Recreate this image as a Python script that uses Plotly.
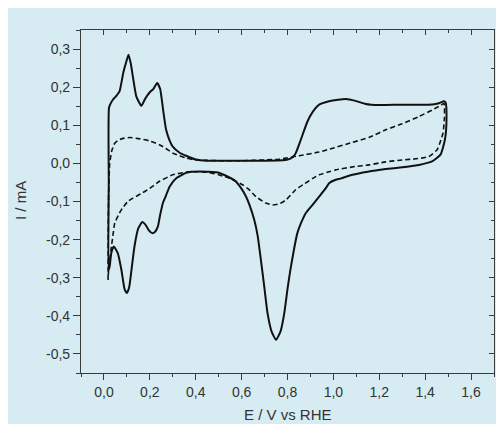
import plotly.graph_objects as go

# ---- data ----
E_solid_anodic = [0.020, 0.021, 0.022, 0.030, 0.039, 0.055, 0.068, 0.085, 0.098, 0.107,
                  0.117, 0.126, 0.141, 0.163, 0.180, 0.199, 0.215, 0.232, 0.245, 0.258,
                  0.271, 0.285, 0.300, 0.330, 0.358, 0.400, 0.450, 0.500, 0.600, 0.700,
                  0.780, 0.810, 0.825, 0.836, 0.858, 0.887, 0.910, 0.938, 0.981, 1.020,
                  1.054, 1.097, 1.141, 1.200, 1.300, 1.416, 1.460, 1.481, 1.489]
I_solid_anodic = [-0.280, -0.050, 0.146, 0.158, 0.167, 0.178, 0.189, 0.240, 0.268, 0.285,
                  0.262, 0.228, 0.176, 0.151, 0.170, 0.186, 0.195, 0.211, 0.195, 0.140,
                  0.088, 0.062, 0.044, 0.028, 0.020, 0.010, 0.007, 0.007, 0.007, 0.007,
                  0.008, 0.012, 0.018, 0.027, 0.062, 0.110, 0.135, 0.154, 0.163, 0.167,
                  0.169, 0.164, 0.156, 0.153, 0.154, 0.154, 0.158, 0.163, 0.160]

E_solid_cathodic = [1.493, 1.486, 1.467, 1.430, 1.373, 1.300, 1.228, 1.150, 1.083, 1.030,
                    1.010, 0.981, 0.967, 0.938, 0.910, 0.880, 0.860, 0.843, 0.815, 0.800,
                    0.786, 0.770, 0.750, 0.730, 0.713, 0.700, 0.684, 0.670, 0.655, 0.635,
                    0.619, 0.600, 0.570, 0.547, 0.503, 0.450, 0.416, 0.380, 0.358, 0.315,
                    0.286, 0.270, 0.257, 0.245, 0.235, 0.222, 0.210, 0.195, 0.180, 0.167,
                    0.150, 0.133, 0.120, 0.110, 0.100, 0.090, 0.076, 0.060, 0.043, 0.032,
                    0.025, 0.020]
I_solid_cathodic = [0.114, 0.062, 0.023, 0.005, -0.004, -0.010, -0.015, -0.022, -0.030, -0.040,
                    -0.043, -0.052, -0.065, -0.087, -0.108, -0.130, -0.155, -0.183, -0.271, -0.330,
                    -0.393, -0.440, -0.463, -0.440, -0.393, -0.330, -0.253, -0.190, -0.148, -0.110,
                    -0.087, -0.067, -0.045, -0.037, -0.025, -0.022, -0.021, -0.022, -0.025, -0.039,
                    -0.061, -0.085, -0.104, -0.135, -0.166, -0.180, -0.183, -0.175, -0.160, -0.154,
                    -0.170, -0.218, -0.280, -0.325, -0.340, -0.330, -0.279, -0.235, -0.218, -0.235,
                    -0.270, -0.280]

E_dash_anodic = [0.018, 0.020, 0.025, 0.035, 0.047, 0.060, 0.080, 0.112, 0.150, 0.199,
                 0.242, 0.270, 0.300, 0.330, 0.358, 0.400, 0.450, 0.500, 0.600, 0.700,
                 0.764, 0.850, 0.938, 0.981, 1.083, 1.155, 1.228, 1.300, 1.373, 1.430,
                 1.467, 1.482]
I_dash_anodic = [-0.306, -0.100, 0.000, 0.035, 0.053, 0.060, 0.065, 0.068, 0.065, 0.059,
                 0.049, 0.039, 0.027, 0.020, 0.014, 0.009, 0.008, 0.007, 0.007, 0.009,
                 0.011, 0.020, 0.030, 0.037, 0.055, 0.068, 0.088, 0.104, 0.123, 0.140,
                 0.152, 0.157]

E_dash_cathodic = [1.484, 1.478, 1.465, 1.452, 1.416, 1.360, 1.300, 1.228, 1.155, 1.097,
                   1.010, 0.981, 0.938, 0.909, 0.870, 0.836, 0.793, 0.765, 0.735, 0.705,
                   0.662, 0.633, 0.604, 0.547, 0.500, 0.450, 0.400, 0.358, 0.300, 0.242,
                   0.199, 0.160, 0.126, 0.104, 0.080, 0.068, 0.047, 0.039, 0.030, 0.022,
                   0.018]
I_dash_cathodic = [0.120, 0.080, 0.055, 0.036, 0.018, 0.012, 0.009, 0.004, -0.004, -0.008,
                   -0.017, -0.022, -0.030, -0.040, -0.055, -0.069, -0.096, -0.106, -0.109, -0.104,
                   -0.087, -0.069, -0.056, -0.039, -0.030, -0.023, -0.022, -0.023, -0.030, -0.047,
                   -0.066, -0.080, -0.091, -0.100, -0.118, -0.130, -0.157, -0.190, -0.230, -0.270,
                   -0.300]

x_tickvals = [0.0, 0.2, 0.4, 0.6, 0.8, 1.0, 1.2, 1.4, 1.6]
x_ticktext = ["0,0", "0,2", "0,4", "0,6", "0,8", "1,0", "1,2", "1,4", "1,6"]
y_tickvals = [-0.5, -0.4, -0.3, -0.2, -0.1, 0.0, 0.1, 0.2, 0.3]
y_ticktext = ["-0,5", "-0,4", "-0,3", "-0,2", "-0,1", "0,0", "0,1", "0,2", "0,3"]
x_title = "E / V vs RHE"
y_title = "I / mA"

# ---- layout geometry (figure coords; page adds an 8px body margin) ----
W, H = 496, 416
L, R, T, B = 73, 10, 22, 51
PW, PH = W - L - R, H - T - B
BG = "rgb(214,236,242)"
AX = "#3a3a3a"
TXT = "#333333"
FONT = "Liberation Sans, Arial, sans-serif"

def px_x(p):
    return (p - L) / PW

def px_y(p):
    return 1 - (p - T) / PH

fig = go.Figure()
fig.add_trace(go.Scatter(
    x=E_solid_anodic + E_solid_cathodic, y=I_solid_anodic + I_solid_cathodic,
    mode="lines", line=dict(color="#111111", width=2, shape="spline", smoothing=0.5),
    showlegend=False, hoverinfo="skip"))
fig.add_trace(go.Scatter(
    x=E_dash_anodic + E_dash_cathodic, y=I_dash_anodic + I_dash_cathodic,
    mode="lines", line=dict(color="#111111", width=1.6, dash="5px,3px", shape="spline", smoothing=0.5),
    showlegend=False, hoverinfo="skip"))
# dummy trace for the mirrored top/right axes
fig.add_trace(go.Scatter(x=[None], y=[None], xaxis="x2", yaxis="y2",
                         showlegend=False, hoverinfo="skip"))

xr = [-0.1, 1.7]
yr = [-0.55, 0.35]
common = dict(showgrid=False, zeroline=False, showline=True, linecolor=AX, linewidth=1.2,
              tickcolor=AX, tickwidth=1.2)

fig.update_layout(
    width=W, height=H,
    margin=dict(l=L, r=R, t=T, b=B, pad=0),
    paper_bgcolor=BG, plot_bgcolor=BG,
    font=dict(family=FONT, size=14, color=TXT),
    xaxis=dict(range=xr, tickvals=x_tickvals, ticktext=x_ticktext, ticks="outside",
               ticklen=6, tickfont=dict(size=14, color=TXT),
               minor=dict(ticks="outside", ticklen=3, dtick=0.1, tick0=0, tickcolor=AX, tickwidth=1.2),
               **common),
    yaxis=dict(range=yr, tickvals=y_tickvals, ticktext=y_ticktext, ticks="outside",
               ticklen=7, tickfont=dict(size=14, color=TXT),
               minor=dict(ticks="outside", ticklen=4, dtick=0.05, tick0=0, tickcolor=AX, tickwidth=1.2),
               **common),
    xaxis2=dict(range=xr, overlaying="x", side="top", anchor="y", tickvals=x_tickvals,
                showticklabels=False, ticks="inside", ticklen=5,
                minor=dict(ticks="inside", ticklen=3, dtick=0.1, tick0=0, tickcolor=AX, tickwidth=1.2),
                **common),
    yaxis2=dict(range=yr, overlaying="y", side="right", anchor="x", tickvals=y_tickvals,
                showticklabels=False, ticks="inside", ticklen=5,
                minor=dict(ticks="inside", ticklen=3, dtick=0.05, tick0=0, tickcolor=AX, tickwidth=1.2),
                **common),
    annotations=[
        dict(text=x_title, xref="paper", yref="paper", x=0.5, y=px_y(H - 0.5),
             xanchor="center", yanchor="bottom", showarrow=False, borderpad=0,
             font=dict(size=15, color=TXT, family=FONT)),
        dict(text=y_title, xref="paper", yref="paper", x=px_x(13), y=px_y(193),
             xanchor="center", yanchor="middle", showarrow=False, textangle=-90,
             font=dict(size=15, color=TXT, family=FONT)),
    ],
)

fig.write_html("out.html")
